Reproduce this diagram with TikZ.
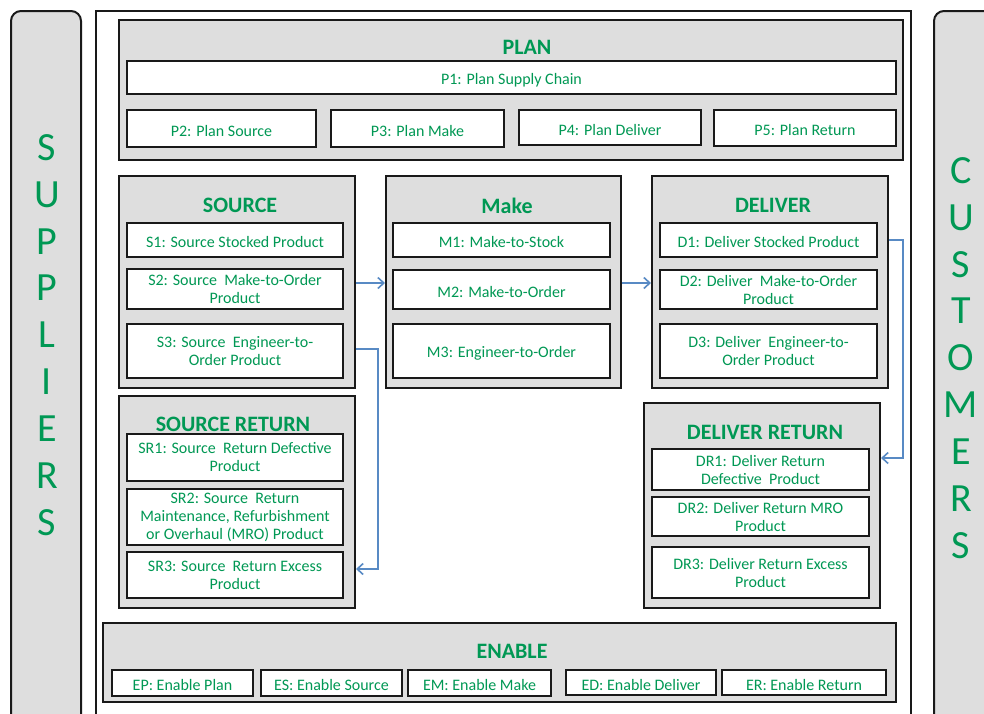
\documentclass[tikz,border=0pt]{standalone}
\usepackage{fontspec}
\setmainfont{Carlito}
\usetikzlibrary{arrows.meta}
\definecolor{scgreen}{RGB}{0,152,84}
\definecolor{scgrey}{RGB}{222,222,222}
\definecolor{scblue}{RGB}{88,138,196}
\definecolor{scline}{RGB}{25,25,25}
\newcommand{\bx}[7]{\node[#1, minimum width={#4-#2}, minimum height={#5-#3}] (#6) at ({(#2+#4)/2},{(#3+#5)/2}) {#7};}
\tikzset{
  group/.style={draw=scline, line width=2pt, fill=scgrey, inner sep=0pt},
  item/.style={draw=scline, line width=2.2pt, fill=white, text=scgreen, font=\fontsize{16}{18}\selectfont, align=center, inner sep=0pt, execute at begin node={\rule{0pt}{16pt}}},
  ttl/.style={text=scgreen, font=\bfseries\fontsize{22}{24}\selectfont, inner sep=0pt},
  side/.style={draw=scline, line width=2pt, fill=scgrey, rounded corners=10pt},
  letters/.style={text=scgreen, font=\fontsize{40}{46.9}\selectfont, align=center, inner sep=0pt},
  flow/.style={draw=scblue, line width=1.6pt, -{Straight Barb[length=6pt,width=11pt,line width=1.6pt]}}
}
\begin{document}
\begin{tikzpicture}[x=1pt,y=-1pt]
\useasboundingbox (0,0) rectangle (984,713);
\clip (0,0) rectangle (984,713);
% side bars and main frame
\bx{side}{11}{11}{81}{740}{suppliers}{}
\bx{side}{934}{11}{1010}{740}{customers}{}
\bx{draw=scline, line width=2pt, fill=white, inner sep=0pt}{96}{11}{911}{740}{frame}{}
\node[letters] (suptext) at (47,335) {S\\U\\P\\P\\L\\I\\E\\R\\S};
\node[letters] (custext) at (961,358) {C\\U\\S\\T\\O\\M\\E\\R\\S};
% PLAN
\bx{group}{119}{20}{903}{160}{plan}{}
\node[ttl] (plantitle) at (527,47) {PLAN};
\bx{item}{127}{61}{896}{94}{P1}{P1: Plan Supply Chain}
\bx{item}{127}{110}{316}{147}{P2}{P2: Plan Source}
\bx{item}{331}{110}{504}{147}{P3}{P3: Plan Make}
\bx{item}{519}{110}{701}{145}{P4}{P4: Plan Deliver}
\bx{item}{714}{110}{896}{146}{P5}{P5: Plan Return}
% SOURCE
\bx{group}{119}{176}{355}{388}{source}{}
\node[ttl] (sourcetitle) at (240,205.5) {SOURCE};
\bx{item}{127}{223}{343}{257}{S1}{S1: Source Stocked Product}
\bx{item}{127}{269}{343}{309}{S2}{S2: Source\ \ Make-to-Order\\Product}
\bx{item}{127}{324}{343}{378}{S3}{S3: Source\ \ Engineer-to-\\Order Product}
% MAKE
\bx{group}{386}{176}{621}{388}{make}{}
\node[ttl] (maketitle) at (507,205.5) {Make};
\bx{item}{393}{223}{610}{257}{M1}{M1: Make-to-Stock}
\bx{item}{393}{270}{610}{309}{M2}{M2: Make-to-Order}
\bx{item}{393}{324}{610}{378}{M3}{M3: Engineer-to-Order}
% DELIVER
\bx{group}{652}{176}{888}{388}{deliver}{}
\node[ttl] (delivertitle) at (773,205.5) {DELIVER};
\bx{item}{660}{223}{877}{257}{D1}{D1: Deliver Stocked Product}
\bx{item}{660}{270}{877}{309}{D2}{D2: Deliver\ \ Make-to-Order\\Product}
\bx{item}{660}{324}{877}{378}{D3}{D3: Deliver\ \ Engineer-to-\\Order Product}
% SOURCE RETURN
\bx{group}{119}{396}{355}{608}{sourceret}{}
\node[ttl] (srtitle) at (233,424.5) {SOURCE RETURN};
\bx{item}{127}{434}{343}{481}{SR1}{SR1: Source\ \ Return Defective\\Product}
\bx{item}{127}{489}{343}{545}{SR2}{SR2: Source\ \ Return\\Maintenance, Refurbishment\\or Overhaul (MRO) Product}
\bx{item}{127}{552}{343}{598}{SR3}{SR3: Source\ \ Return Excess\\Product}
% DELIVER RETURN
\bx{group}{644}{403}{880}{608}{deliverret}{}
\node[ttl] (drtitle) at (765,432.5) {DELIVER RETURN};
\bx{item}{652}{449}{869}{490}{DR1}{DR1: Deliver Return\\Defective\ \ Product}
\bx{item}{652}{497}{869}{536}{DR2}{DR2: Deliver Return MRO\\Product}
\bx{item}{652}{547}{869}{598}{DR3}{DR3: Deliver Return Excess\\Product}
% ENABLE
\bx{group}{103}{623}{896}{702}{enable}{}
\node[ttl] (enabletitle) at (512,651.5) {ENABLE};
\bx{item}{112}{670}{253}{696}{EP}{EP: Enable Plan}
\bx{item}{261}{670}{402}{696}{ES}{ES: Enable Source}
\bx{item}{408}{670}{551}{696}{EM}{EM: Enable Make}
\bx{item}{566}{670}{716}{695}{ED}{ED: Enable Deliver}
\bx{item}{722}{670}{886}{695}{ER}{ER: Enable Return}
% connectors
\coordinate (a1) at (0,283);
\coordinate (b1) at (378,349);
\coordinate (b2) at (0,569);
\coordinate (c1) at (903,240);
\coordinate (c2) at (0,458);
\draw[flow] (source.east |- a1) -- (make.west |- a1);
\draw[flow] (make.east |- a1) -- (deliver.west |- a1);
\draw[flow] (source.east |- b1) -- (b1) |- (sourceret.east |- b2);
\draw[flow] (deliver.east |- c1) -- (c1) |- (deliverret.east |- c2);
\end{tikzpicture}
\end{document}
